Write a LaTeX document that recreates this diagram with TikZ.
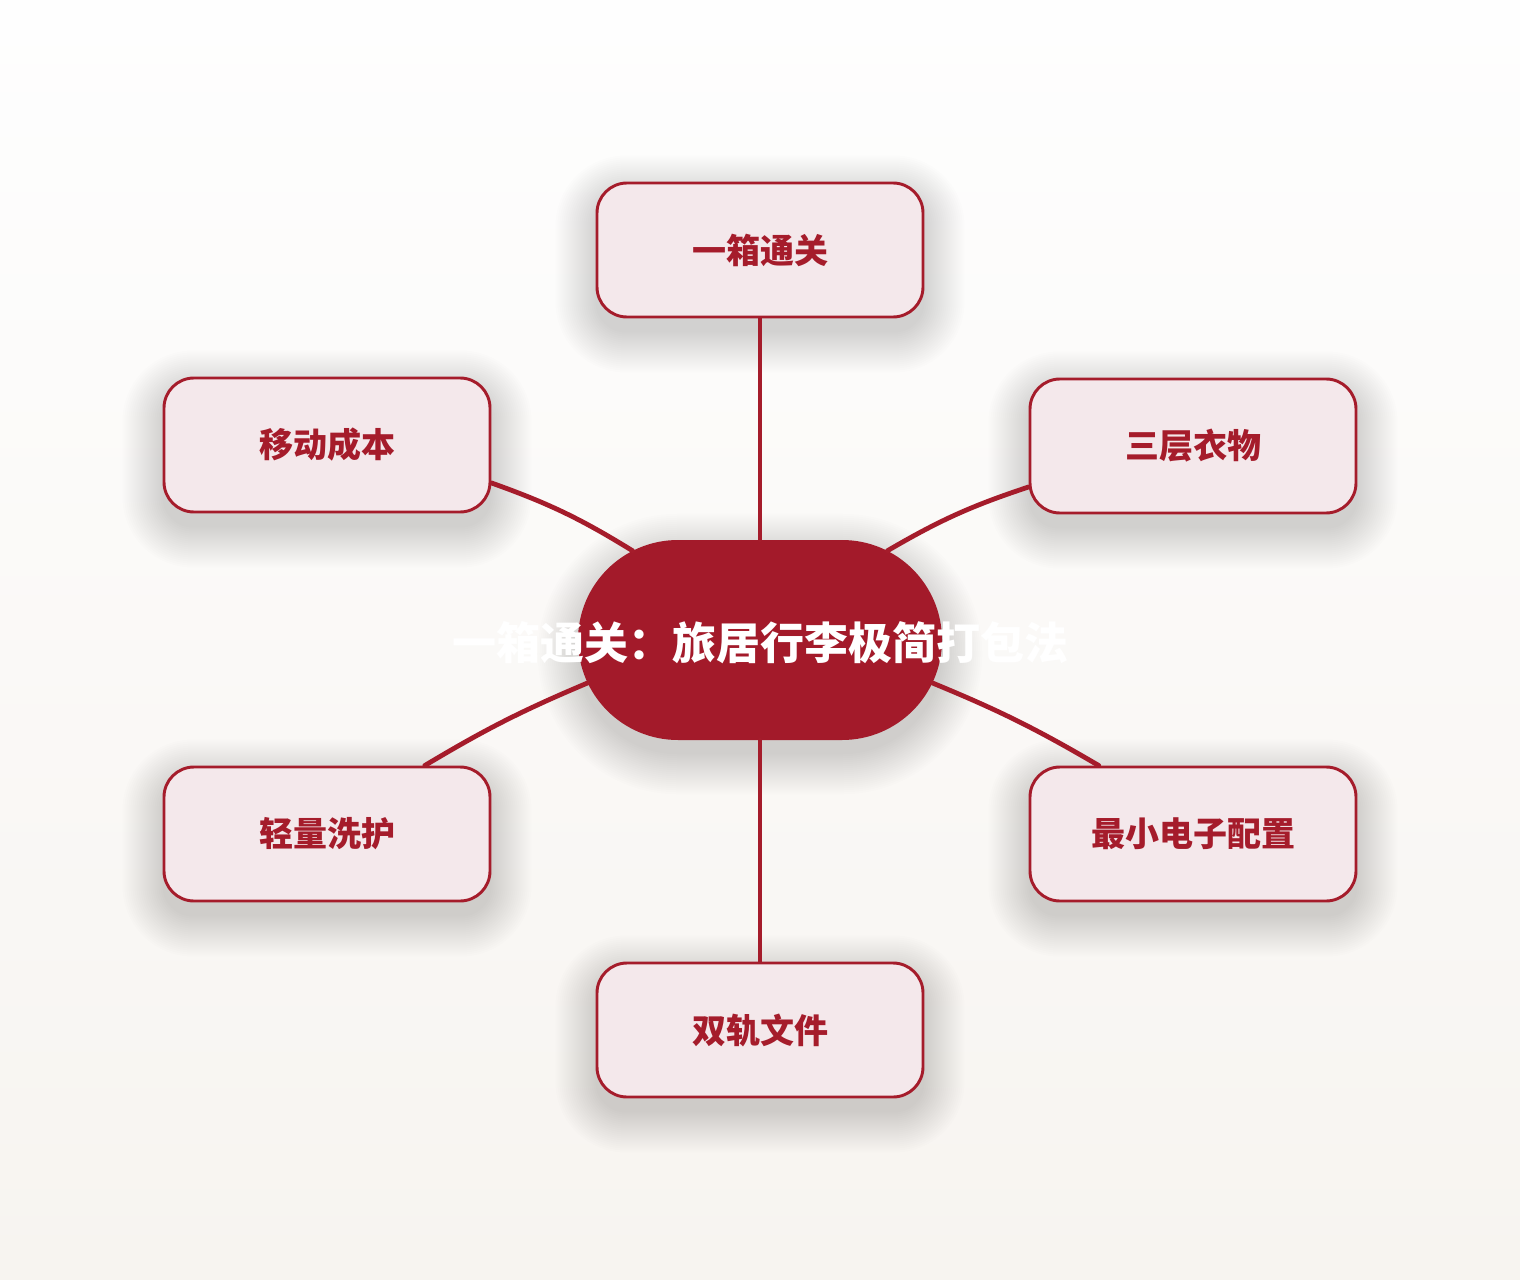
\documentclass[tikz,border=0pt]{standalone}
\usepackage{fontspec}
\newfontfamily\cjk{Noto Sans CJK SC}
\usetikzlibrary{shapes.misc}
\definecolor{brand}{HTML}{A51C2B}
\definecolor{hubred}{HTML}{A31A2A}
\definecolor{boxfill}{HTML}{F4E8EB}
\definecolor{bgtop}{HTML}{FEFEFE}
\definecolor{bgbot}{HTML}{F7F4F0}
\pgfdeclarelayer{bglayer}
\pgfdeclarelayer{shadowlayer}
\pgfsetlayers{bglayer,shadowlayer,main}
% soft shadow: #1 node name, #2 corner radius (pt), #3 down shift (px)
\newcommand\softshadow[3]{%
  \foreach \e in {0,2,...,40}{%
    \pgfmathsetmacro\rr{#2+0.75*\e}%
    \fill[black, fill opacity=0.0085, rounded corners=\rr pt]
      ([shift={(-\e,-\e+#3)}]#1.west |- #1.north) rectangle ([shift={(\e,\e+#3)}]#1.east |- #1.south);
  }}
\begin{document}
\begin{tikzpicture}[x=0.75pt,y=-0.75pt,
  branch/.style={rectangle, rounded corners=22.5pt, draw=brand, line width=2.2pt,
    fill=boxfill, minimum width=244.5pt, minimum height=100.5pt, inner sep=0pt,
    font=\cjk\bfseries\fontsize{25.5pt}{30pt}\selectfont, text=brand},
  hub/.style={rounded rectangle, fill=hubred, minimum width=273pt, minimum height=150pt,
    inner sep=0pt},
  hubtext/.style={inner sep=0pt, text=white, font=\cjk\bfseries\fontsize{33pt}{40pt}\selectfont},
  link/.style={draw=brand, line width=3.6pt, line cap=round}]
\begin{pgfonlayer}{bglayer}
\shade[top color=bgtop, bottom color=bgbot] (0,0) rectangle (1520,1280);
\end{pgfonlayer}
\useasboundingbox (0,0) rectangle (1520,1280);

\node[hub] (c) at (760,640) {};
\node[hubtext] (ct) at (760,643) {一箱通关：旅居行李极简打包法};

\node[branch] (b1) at (760,250) {一箱通关};
\node[branch] (b2) at (327,445) {移动成本};
\node[branch] (b3) at (1193,446) {三层衣物};
\node[branch] (b4) at (327,834) {轻量洗护};
\node[branch] (b5) at (1193,834) {最小电子配置};
\node[branch] (b6) at (760,1030) {双轨文件};

\begin{pgfonlayer}{shadowlayer}
\softshadow{b1}{22.5}{14}
\softshadow{b2}{22.5}{14}
\softshadow{b3}{22.5}{14}
\softshadow{b4}{22.5}{14}
\softshadow{b5}{22.5}{14}
\softshadow{b6}{22.5}{14}
\softshadow{c}{75}{14}
\end{pgfonlayer}

\draw[link] (b1.south) -- (c.north);
\draw[link] (b2.-13.5) to[bend left=6] (c.145);
\draw[link] (b3.-166.2) to[bend right=6] (c.35);
\draw[link] (b4.35.8) to[bend left=4] (c.194.4);
\draw[link] (b5.144.2) to[bend right=4] (c.-14.4);
\draw[link] (c.south) -- (b6.north);
\end{tikzpicture}
\end{document}
